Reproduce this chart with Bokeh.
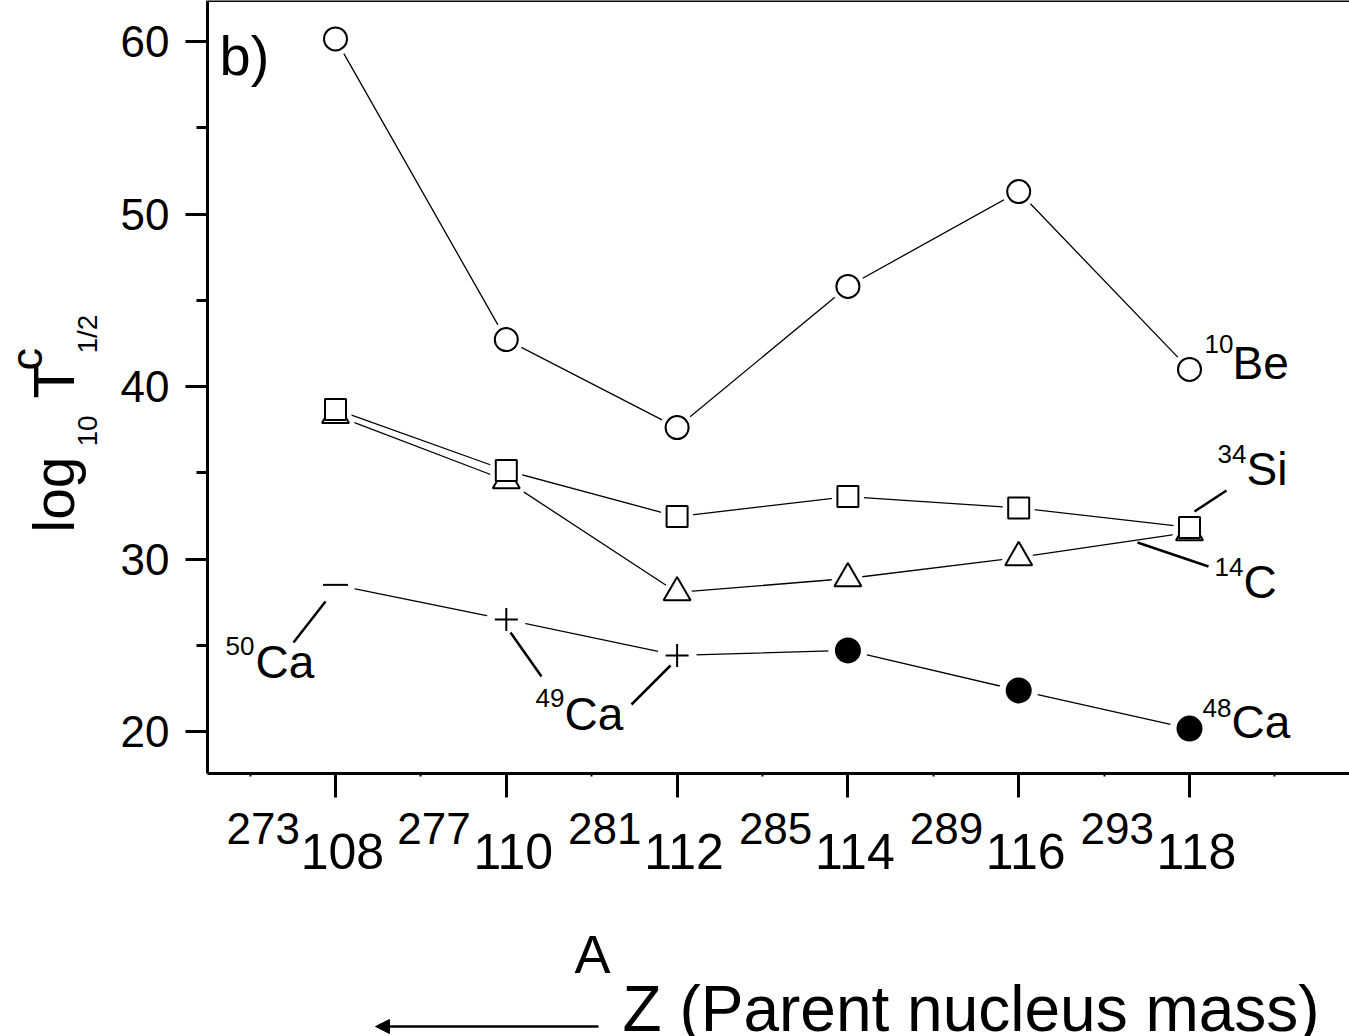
import numpy as np
from bokeh.plotting import figure
from bokeh.models import Range1d, FixedTicker, Label, Arrow, NormalHead, LinearAxis
from bokeh.embed import file_html
from bokeh.resources import INLINE

# ---------------- data ----------------
Z = [108, 110, 112, 114, 116, 118]
A = [273, 277, 281, 285, 289, 293]
be10 = [60.15, 42.72, 37.62, 45.80, 51.30, 40.99]
si34 = [38.67, 35.13, 32.46, 33.62, 32.96, 31.83]
c14 = [38.33, 34.55, 28.06, 28.87, 30.09, 31.54]
ca = [28.50, 26.49, 24.41, 24.70, 22.38, 20.17]
ca_isotope = ["50Ca", "49Ca", "49Ca", "48Ca", "48Ca", "48Ca"]
yticks = [20, 30, 40, 50, 60]
yminor = [25, 35, 45, 55]
xminor = [107, 109, 111, 113, 115, 117, 119]

FONT = "Liberation Sans"

# ---------------- layout (canvas pixels) ----------------
W, H = 1349, 1036
AX_L, AX_B = 207, 773      # axis lines position in pixels
PXZ = 85.4                 # px per unit Z   (Z=108 at x=335)
PXY = 17.25                # px per unit     (60 at y=41)
BASE_SHIFT = 0.35          # label anchor correction (fraction of font size)


def xd(px):
    return 108 + (px - 335) / PXZ


def yd(py):
    return 60 - (py - 41) / PXY


p = figure(width=W, height=H, output_backend="svg", toolbar_location=None,
           x_range=Range1d(xd(0), xd(W)), y_range=Range1d(yd(H), yd(0)),
           min_border=0, x_axis_location=None, y_axis_location=None)
p.outline_line_color = None
p.xgrid.visible = False
p.ygrid.visible = False
p.background_fill_color = "white"
p.border_fill_color = "white"


def style_axis(ax):
    ax.axis_line_width = 3
    ax.axis_line_color = "black"
    ax.major_tick_line_width = 3
    ax.minor_tick_line_width = 3
    ax.major_tick_line_color = "black"
    ax.minor_tick_line_color = "black"
    ax.major_tick_in = 0
    ax.minor_tick_in = 0


yax = LinearAxis(fixed_location=xd(AX_L), bounds=(yd(AX_B), yd(0)),
                 ticker=FixedTicker(ticks=yticks, minor_ticks=yminor))
style_axis(yax)
yax.major_tick_out = 22
yax.minor_tick_out = 11
yax.major_label_text_font = FONT
yax.major_label_text_font_size = "44px"
yax.major_label_text_color = "black"
yax.major_label_standoff = 16
p.add_layout(yax, "left")

xax = LinearAxis(fixed_location=yd(AX_B), bounds=(xd(AX_L), xd(W)),
                 ticker=FixedTicker(ticks=Z, minor_ticks=xminor))
style_axis(xax)
xax.major_tick_out = 24
xax.minor_tick_out = 3
xax.minor_tick_line_width = 2
xax.major_label_text_font = FONT
xax.major_label_text_font_size = "50px"
xax.major_label_text_color = "black"
xax.major_label_standoff = 26
xax.major_label_overrides = {z: "\u00a0" + str(z) for z in Z}
p.add_layout(xax, "below")

top = LinearAxis(fixed_location=yd(0), bounds=(xd(AX_L), xd(W)),
                 ticker=FixedTicker(ticks=[], minor_ticks=[]))
style_axis(top)
top.major_tick_out = 0
top.minor_tick_out = 0
p.add_layout(top, "above")

# ---------------- series ----------------
LW = 1.3
for ys in (be10, si34, c14, ca):
    p.line(Z, ys, line_color="black", line_width=LW)

halo = dict(fill_color="white", line_color="white", line_width=11, line_join="round")
p.scatter(Z, be10, marker="circle", size=23, **halo)
p.scatter(Z, c14, marker="triangle", size=27, **halo)
p.scatter(Z, si34, marker="square", size=21, **halo)
p.scatter(Z, ca, marker="circle", size=28, **halo)

mk = dict(line_color="black", line_width=2)
p.scatter(Z, be10, marker="circle", size=23, fill_color="white", **mk)
p.scatter(Z, c14, marker="triangle", size=27, fill_color="white", **mk)
p.scatter(Z, si34, marker="square", size=21, fill_color="white", **mk)

ca_marker = {"50Ca": ("dash", 25), "49Ca": ("cross", 23), "48Ca": ("circle", 24)}
for iso, (m, s) in ca_marker.items():
    xs = [z for z, i in zip(Z, ca_isotope) if i == iso]
    ys = [v for v, i in zip(ca, ca_isotope) if i == iso]
    p.scatter(xs, ys, marker=m, size=s, fill_color="black", line_color="black", line_width=2)

# ---------------- leader lines ----------------
leaders = [((325, 601), (293, 642)),     # 50Ca
           ((510, 632), (541, 676)),     # 49Ca -> 110
           ((631, 704), (670, 665)),     # 49Ca -> 112
           ((1194, 511), (1226, 490)),   # 34Si
           ((1137, 542), (1208, 566))]   # 14C
p.segment([xd(a[0]) for a, b in leaders], [yd(a[1]) for a, b in leaders],
          [xd(b[0]) for a, b in leaders], [yd(b[1]) for a, b in leaders],
          line_color="black", line_width=2.5)


def lab(text, px, py, size, angle=0.0):
    # (px, py): left end of the text baseline, in canvas pixels
    if angle == 0.0:
        py = py - BASE_SHIFT * size
    else:
        px = px - BASE_SHIFT * size
    p.add_layout(Label(x=xd(px), y=yd(py), text=text, text_font=FONT,
                       text_font_size=f"{size}px", text_color="black",
                       text_align="left", text_baseline="alphabetic",
                       angle=angle))


# isotope labels
iso_labels = [("10", "Be", 1204, 353, 1232, 379),
              ("34", "Si", 1217, 463, 1246, 485),
              ("14", "C", 1214, 576, 1243, 598),
              ("48", "Ca", 1202, 717, 1231, 738),
              ("50", "Ca", 225, 655, 255, 678),
              ("49", "Ca", 535, 707, 564, 730)]
for sup, base, sx, sy, bx, by in iso_labels:
    lab(sup, sx, sy, 26)
    lab(base, bx, by, 46)

lab("b)", 219, 75, 56)

# mass-number superscripts of the x tick labels
for z, a in zip(Z, A):
    tick_px = 335 + (z - 108) * PXZ
    lab(str(a), tick_px - 109, 843, 44)

# y axis title: log10 T^c_1/2 (rotated)
R = np.pi / 2
lab("log", 73, 532, 57, R)
lab("10", 97, 446, 28, R)
lab("T", 73, 398, 58, R)
lab("c", 42, 370, 45, R)
lab("1/2", 97, 353, 28, R)

# x axis title
lab("A", 574, 972, 54)
lab("Z (Parent nucleus mass)", 622, 1031, 64)
p.add_layout(Arrow(end=NormalHead(size=14, fill_color="black", line_color="black"),
                   x_start=xd(598), y_start=yd(1026), x_end=xd(375), y_end=yd(1026),
                   line_color="black", line_width=2.5))

open("out.html", "w").write(file_html(p, INLINE))
